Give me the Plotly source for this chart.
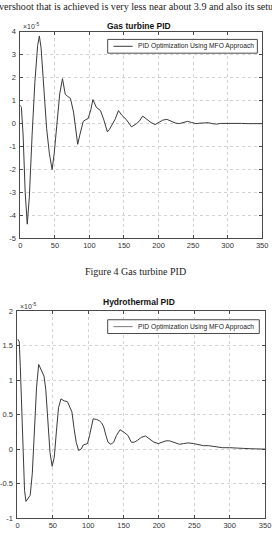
import plotly.graph_objects as go

# ---------------- data ----------------
# Gas turbine PID response (values in units of 1e-5)
gt_t = [0, 1.5, 4, 7, 10, 13, 17, 21, 25, 27.5, 30, 34, 38, 42, 46, 49, 53, 57, 61, 63, 65, 68,
        72.5, 77, 80, 83, 86, 91, 95, 98, 102, 105, 110, 116, 121, 126, 129, 133, 137.5, 142, 147,
        153, 161, 168, 172, 177, 183, 189, 195, 201, 206, 212, 218, 224, 230, 236, 242, 248, 254,
        260, 266, 272, 278, 284, 290, 300, 310, 320, 330, 340, 350]
gt_y = [0.8, 0.7, -0.5, -3.0, -4.38, -3.2, -0.5, 1.8, 3.4, 3.82, 3.3, 1.5, -0.2, -1.3, -2.0, -1.3,
        0.0, 1.3, 1.96, 1.5, 1.28, 1.2, 1.1, 0.5, -0.3, -0.9, -0.5, 0.1, 0.18, 0.22, 0.6, 1.05, 0.71,
        0.57, 0.15, -0.36, -0.25, 0.0, 0.21, 0.57, 0.36, 0.19, -0.14, 0.0, 0.1, 0.33, 0.2, 0.05,
        -0.04, 0.06, 0.15, 0.19, 0.1, 0.03, 0.0, 0.06, 0.1, 0.05, 0.0, 0.02, 0.04, 0.04, 0.0, -0.02,
        0.01, 0.02, 0.0, 0.01, 0.0, 0.0, 0.0]

# Hydrothermal PID response (values in units of 1e-5)
ht_t = [0, 2.5, 4, 7, 10, 12, 15, 18, 21, 24, 27, 30, 34, 37.5, 40, 43, 46, 49, 52, 55, 58, 61.5,
        66, 70.5, 74, 77, 80, 83, 86.5, 90, 93, 99, 102, 105, 107, 112, 116, 119, 122, 125, 128,
        132, 136, 140, 145, 150, 156, 161, 165, 170, 175, 181, 187, 193, 199, 205, 210, 215, 222,
        229, 235, 241, 249, 256, 263, 270, 281, 290, 300, 310, 320, 330, 340, 350]
ht_y = [1.6, 1.56, 1.2, 0.2, -0.6, -0.76, -0.72, -0.67, -0.35, 0.3, 0.9, 1.23, 1.15, 1.06, 0.87,
        0.45, -0.05, -0.25, -0.12, 0.25, 0.6, 0.73, 0.7, 0.69, 0.6, 0.54, 0.3, 0.1, -0.02, 0.0,
        0.06, 0.08, 0.2, 0.38, 0.44, 0.43, 0.41, 0.38, 0.32, 0.2, 0.1, 0.07, 0.1, 0.2, 0.28, 0.25,
        0.2, 0.1, 0.1, 0.13, 0.17, 0.19, 0.15, 0.1, 0.08, 0.1, 0.12, 0.12, 0.1, 0.07, 0.08, 0.09,
        0.08, 0.06, 0.05, 0.05, 0.03, 0.02, 0.02, 0.01, 0.01, 0.005, 0.0, 0.0]

x_ticks = [0, 50, 100, 150, 200, 250, 300, 350]
gt_yticks = [-5, -4, -3, -2, -1, 0, 1, 2, 3, 4]
gt_yticktext = ["-5", "-4", "-3", "-2", "-1", "0", "1", "2", "3", "4"]
ht_yticks = [-1, -0.5, 0, 0.5, 1, 1.5, 2]
ht_yticktext = ["-1", "-0.5", "0", "0.5", "1", "1.5", "2"]

series_name = "PID Optimization Using MFO Approach"
body_text = "vershoot that is achieved is very less near about 3.9 and also its setu"
caption = "Figure 4 Gas turbine PID"
title1 = "Gas turbine PID"
title2 = "Hydrothermal PID"

# ---------------- layout helpers ----------------
W, H = 272, 550


def px(x):
    return x / W


def py(y):
    return 1 - y / H


LINE = "#3a3a3a"
AX = "#4a4a4a"
GRID = "#d2d2d2"
TICKFONT = dict(family="Liberation Sans, Arial", size=7.5, color="#333333")

fig = go.Figure()
fig.add_trace(go.Scatter(x=gt_t, y=gt_y, xaxis="x", yaxis="y", mode="lines",
                         line=dict(color=LINE, width=1), name=series_name, showlegend=False))
fig.add_trace(go.Scatter(x=ht_t, y=ht_y, xaxis="x2", yaxis="y2", mode="lines",
                         line=dict(color=LINE, width=1), name=series_name, showlegend=False))

common = dict(showline=True, linecolor=AX, linewidth=1, mirror="ticks", ticks="inside",
              ticklen=3, tickcolor=AX, showgrid=True, gridcolor=GRID, griddash="dot",
              gridwidth=1, zeroline=False, tickfont=TICKFONT, ticklabeloverflow="allow")

fig.update_layout(
    width=W, height=H, margin=dict(l=0, r=0, t=0, b=0),
    paper_bgcolor="white", plot_bgcolor="white", showlegend=False,
    xaxis=dict(domain=[px(16), px(268)], range=[0, 350], anchor="y", tickvals=x_ticks, **common),
    yaxis=dict(domain=[py(238.3), py(28.3)], range=[-5, 4], anchor="x", tickvals=gt_yticks,
               ticktext=gt_yticktext, ticklabelstandoff=2, **common),
    xaxis2=dict(domain=[px(13), px(271)], range=[0, 350], anchor="y2", tickvals=x_ticks, **common),
    yaxis2=dict(domain=[py(522.5), py(312.5)], range=[-1, 2], anchor="x2", tickvals=ht_yticks,
                ticktext=ht_yticktext, ticklabelstandoff=2, **common),
)

ann = []
ann.append(dict(text=body_text, x=px(136.5), y=py(2.5), xref="paper", yref="paper",
                xanchor="center", yanchor="middle", showarrow=False,
                font=dict(family="Liberation Serif, Times New Roman", size=10.1, color="#1a1a1a")))
ann.append(dict(text=caption, x=px(136), y=py(272), xref="paper", yref="paper",
                xanchor="center", yanchor="middle", showarrow=False,
                font=dict(family="Liberation Serif, Times New Roman", size=10, color="#1a1a1a")))
ann.append(dict(text="<b>" + title1 + "</b>", x=px(140), y=py(22), xref="paper", yref="paper",
                xanchor="center", yanchor="middle", showarrow=False,
                font=dict(family="Liberation Sans, Arial", size=8.5, color="#111111")))
ann.append(dict(text="<b>" + title2 + "</b>", x=px(140), y=py(303), xref="paper", yref="paper",
                xanchor="center", yanchor="middle", showarrow=False,
                font=dict(family="Liberation Sans, Arial", size=8.5, color="#111111")))
ann.append(dict(text="×10<sup>-5</sup>", x=px(17), y=py(22), xref="paper", yref="paper",
                xanchor="left", yanchor="middle", showarrow=False,
                font=dict(family="Liberation Sans, Arial", size=7, color="#333333")))
ann.append(dict(text="×10<sup>-5</sup>", x=px(14), y=py(307), xref="paper", yref="paper",
                xanchor="left", yanchor="middle", showarrow=False,
                font=dict(family="Liberation Sans, Arial", size=7, color="#333333")))
# legend labels
ann.append(dict(text=series_name, x=px(137), y=py(43), xref="paper", yref="paper",
                xanchor="left", yanchor="middle", showarrow=False,
                font=dict(family="Liberation Sans, Arial", size=6.7, color="#222222")))
ann.append(dict(text=series_name, x=px(137), y=py(328), xref="paper", yref="paper",
                xanchor="left", yanchor="middle", showarrow=False,
                font=dict(family="Liberation Sans, Arial", size=6.7, color="#222222")))

shapes = []
for (bx0, bx1, by0, by1, col) in [(107, 263, 36, 50, LINE), (107, 265, 321, 335, "#7a7a7a")]:
    shapes.append(dict(type="rect", xref="paper", yref="paper", x0=px(bx0), x1=px(bx1),
                       y0=py(by1), y1=py(by0), line=dict(color=AX, width=1), fillcolor="white"))
    ymid = (by0 + by1) / 2
    shapes.append(dict(type="line", xref="paper", yref="paper", x0=px(113), x1=px(133),
                       y0=py(ymid), y1=py(ymid), line=dict(color=col, width=1)))

fig.update_layout(annotations=ann, shapes=shapes)
fig.write_html("out.html")
